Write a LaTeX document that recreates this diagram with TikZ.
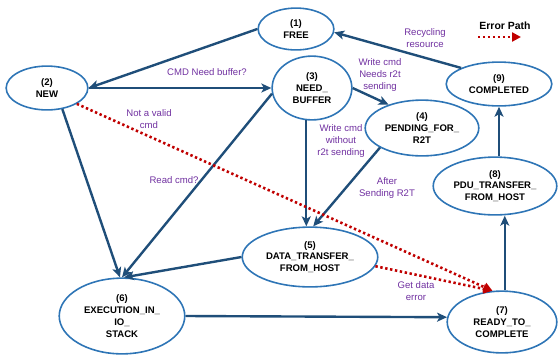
\documentclass[tikz,border=0pt]{standalone}
\usepackage{fontspec}
\setmainfont{Liberation Sans}
\usetikzlibrary{shapes.geometric,arrows.meta}

\definecolor{stateblue}{HTML}{2E75B6}
\definecolor{edgeblue}{HTML}{1F4E79}
\definecolor{notepurple}{HTML}{7030A0}
\definecolor{errred}{HTML}{C00000}

\tikzset{
  state/.style={ellipse, draw=stateblue, line width=1.6pt, inner sep=0pt, align=center,
    font=\fontsize{9.6}{11.8}\selectfont\bfseries},
  flow/.style={draw=edgeblue, line width=2.4pt, -{Stealth[length=10pt,width=9pt,inset=2.5pt]}},
  errflow/.style={draw=errred, line width=2.6pt, dash pattern=on 2.4pt off 2.6pt,
    -{Triangle[length=9pt,width=9pt]}},
  note/.style={text=notepurple, align=center, inner sep=0pt, font=\fontsize{9.6}{12}\selectfont}
}

\begin{document}
\begin{tikzpicture}[x=1bp,y=-1bp]
                \useasboundingbox (0,0) rectangle (560,355);

                \node[state, minimum width=76, minimum height=42] (free) at (296,29) {(1)\\FREE};
                \node[state, minimum width=82, minimum height=44] (new) at (47,88) {(2)\\NEW};
                \node[state, minimum width=80, minimum height=64] (needbuf) at (312,88) {(3)\\NEED\_\\BUFFER};
                \node[state, minimum width=114, minimum height=56] (pending) at (422,128) {(4)\\PENDING\_FOR\_\\R2T};
                \node[state, minimum width=136, minimum height=60] (data) at (310,257) {(5)\\DATA\_TRANSFER\_\\FROM\_HOST};
                \node[state, minimum width=126, minimum height=76] (exec) at (122,316) {(6)\\EXECUTION\_IN\_\\IO\_\\STACK};
                \node[state, minimum width=110, minimum height=62] (ready) at (502,322) {(7)\\READY\_TO\_\\COMPLETE};
                \node[state, minimum width=124, minimum height=58] (pdu) at (495,186) {(8)\\PDU\_TRANSFER\_\\FROM\_HOST};
                \node[state, minimum width=106, minimum height=44] (done) at (499,84) {(9)\\COMPLETED};

                \draw[flow] (free.west) -- (new.east);
                \draw[flow] (new.east) -- (needbuf.west);
                \draw[flow] (new.-54) -- (exec.93);
                \draw[flow] (needbuf.188) -- (exec.north);
                \draw[flow] (needbuf.-100) -- (needbuf.-100 |- data.north);
                \draw[flow] (needbuf.east) -- (pending.145);
                \draw[flow] (pending.205) -- (data.84);
                \draw[flow] (data.west) -- (exec.87);
                \draw[flow] (exec.east) -- (ready.175);
                \draw[flow] (ready.85) -- (ready.85 |- pdu.south);
                \draw[flow] (pdu.north -| done.south) -- (done.south);
                \draw[flow] (done.157) -- (free.-5);

                \draw[errflow] (new.-28) -- (ready.107);
                \draw[errflow] (data.-8) -- (ready.107);

                \node[note] (needlbl) at (207,72) {CMD Need buffer?};
                \node[note] (invalidlbl) at (149,119) {Not a valid\\cmd};
                \node[note] (readlbl) at (174,180) {Read cmd?};
                \node[note] (r2tlbl) at (380,75) {Write cmd\\Needs r2t\\sending};
                \node[note] (nor2tlbl) at (341,141) {Write cmd\\without\\r2t sending};
                \node[note] (afterlbl) at (387,188) {After\\Sending R2T};
                \node[note] (getlbl) at (416,291) {Get data\\error};
                \node[note] (recyclbl) at (425,38) {Recycling\\resource};

                \node[font=\fontsize{10.5}{12}\selectfont\bfseries, inner sep=0pt] (legend) at (505,26) {Error Path};
                \coordinate (legA) at (478,37);
                \coordinate (legB) at (521,37);
                \draw[errflow] (legA) -- (legB);
\end{tikzpicture}
\end{document}
